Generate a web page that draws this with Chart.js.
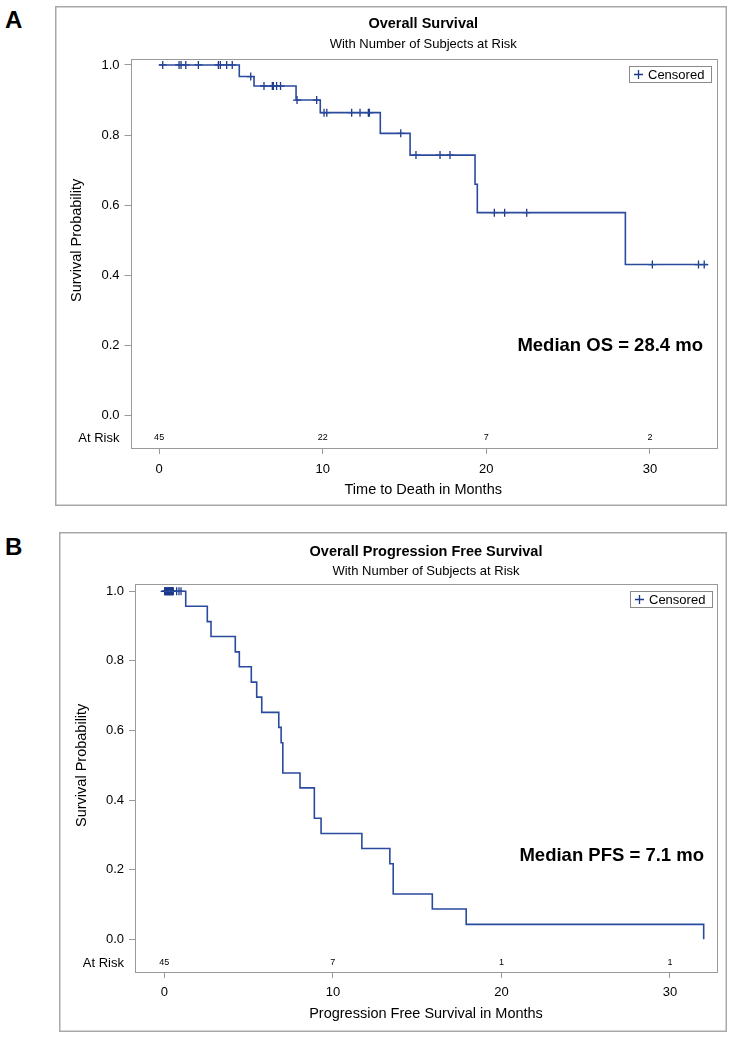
<!DOCTYPE html>
<html>
<head>
<meta charset="utf-8">
<script src="https://cdn.jsdelivr.net/npm/chart.js@4.4.0/dist/chart.umd.min.js"></script>
<style>
  body { margin: 0; background: #fff; width: 733px; height: 1039px; position: relative; overflow: hidden;
         font-family: "Liberation Sans", Arial, sans-serif; }
  .lab { position: absolute; font-weight: bold; font-size: 24px; color: #000; line-height: 24px; }
  .box { position: absolute; }
</style>
</head>
<body>
<div class="lab" style="left:5px;top:8px">A</div>
<div class="box" style="left:55px;top:6px;width:672px;height:500px"><canvas id="chartA"></canvas></div>
<div class="lab" style="left:5px;top:535px">B</div>
<div class="box" style="left:59px;top:532px;width:668px;height:500px"><canvas id="chartB"></canvas></div>

<script>
// ---- data ----
// overall survival: step times (months) and survival after each step
var osTimes = [0, 4.9, 5.8, 8.37, 9.85, 13.52, 15.34, 19.31, 19.45, 28.5, 33.53];
var osSurv  = [1.0, 0.967, 0.940, 0.900, 0.864, 0.805, 0.743, 0.660, 0.579, 0.431, 0.431];
var osCensored = [0.22, 1.22, 1.34, 1.63, 2.40, 3.62, 3.74, 4.13, 4.47, 5.6, 6.41, 6.92, 6.98, 7.18, 7.42,
                  8.43, 9.63, 10.08, 10.25, 11.77, 12.28, 12.79, 12.85, 14.77, 15.7, 17.17, 17.78,
                  20.49, 21.12, 22.47, 30.15, 32.97, 33.32];
var osRiskTimes = [0, 10, 20, 30];
var osRisk = [45, 22, 7, 2];

// progression free survival
var pfsTimes = [0, 1.27, 2.55, 2.77, 4.21, 4.45, 5.16, 5.48, 5.78, 6.79, 6.93, 7.03, 8.05, 8.90, 9.30,
                11.72, 13.38, 13.58, 15.90, 17.91, 32.0];
var pfsSurv  = [1.0, 0.957, 0.913, 0.870, 0.826, 0.783, 0.739, 0.696, 0.652, 0.609, 0.565, 0.478, 0.435,
                0.348, 0.304, 0.261, 0.217, 0.130, 0.087, 0.043, 0.0];
var pfsCensored = [0.02, 0.05, 0.08, 0.11, 0.14, 0.17, 0.2, 0.23, 0.26, 0.29, 0.32, 0.35, 0.38, 0.41,
                   0.44, 0.47, 0.5, 0.53, 0.73, 0.87, 0.99];
var pfsRiskTimes = [0, 10, 20, 30];
var pfsRisk = [45, 7, 1, 1];

var yTicks = [0, 0.2, 0.4, 0.6, 0.8, 1.0];
var xTicks = [0, 10, 20, 30];

var LINE = '#2a4a9e';
var MARK = '#1c3889';
var GREY = '#9a9a9a';
var FONT = '"Liberation Sans", Arial, sans-serif';

function survAt(times, surv, t) {
  var s = surv[0];
  for (var i = 0; i < times.length; i++) { if (times[i] <= t) s = surv[i]; }
  return s;
}

function decor(c) {
  return {
    id: 'decor',
    afterDraw: function (chart) {
      var ctx = chart.ctx, a = chart.chartArea, xs = chart.scales.x, ys = chart.scales.y;
      ctx.save();
      // outer box + plot frame
      ctx.strokeStyle = '#a8a8a8'; ctx.lineWidth = 1.5;
      ctx.strokeRect(0.75, 0.75, chart.width - 1.5, chart.height - 1.5);
      ctx.strokeStyle = GREY; ctx.lineWidth = 1;
      ctx.strokeRect(Math.round(a.left) + 0.5, Math.round(a.top) + 0.5,
                     Math.round(a.right - a.left), Math.round(a.bottom - a.top));
      var cx = (a.left + a.right) / 2;
      ctx.fillStyle = '#000'; ctx.textAlign = 'center'; ctx.textBaseline = 'middle';
      ctx.font = 'bold 14.5px ' + FONT; ctx.fillText(c.title, cx, c.titleY);
      ctx.font = '13px ' + FONT; ctx.fillText(c.subtitle, cx, c.subY);
      // y title, centred on the 0..1 range
      ctx.save();
      ctx.translate(c.yTitleX, (ys.getPixelForValue(0) + ys.getPixelForValue(1)) / 2);
      ctx.rotate(-Math.PI / 2);
      ctx.font = '14.5px ' + FONT; ctx.fillText('Survival Probability', 0, 0);
      ctx.restore();
      // at risk row
      ctx.font = '13px ' + FONT; ctx.textAlign = 'right';
      ctx.fillText('At Risk', a.left - 11, c.riskY);
      ctx.font = '9px ' + FONT; ctx.textAlign = 'center';
      c.riskTimes.forEach(function (t, i) { ctx.fillText(String(c.risk[i]), xs.getPixelForValue(t), c.riskY); });
      // median label
      ctx.font = 'bold 18.5px ' + FONT; ctx.textAlign = 'right';
      ctx.fillText(c.median, a.right - 13, ys.getPixelForValue(c.medianAt));
      // legend
      var lx = a.right - 87, ly = a.top + 7, lw = 82, lh = 16;
      ctx.strokeStyle = '#8a8a8a'; ctx.lineWidth = 1;
      ctx.strokeRect(Math.round(lx) + 0.5, Math.round(ly) + 0.5, lw, lh);
      ctx.strokeStyle = MARK; ctx.lineWidth = 1.3;
      ctx.beginPath();
      ctx.moveTo(lx + 5, ly + lh / 2 + 0.5); ctx.lineTo(lx + 14, ly + lh / 2 + 0.5);
      ctx.moveTo(lx + 9.5, ly + 4); ctx.lineTo(lx + 9.5, ly + 13);
      ctx.stroke();
      ctx.fillStyle = '#000'; ctx.textAlign = 'left'; ctx.font = '13px ' + FONT;
      ctx.fillText('Censored', lx + 19, ly + lh / 2 + 1);
      ctx.restore();
    }
  };
}

function kmChart(id, c) {
  var line = c.times.map(function (t, i) { return { x: t, y: c.surv[i] }; });
  var marks = c.censored.map(function (t) { return { x: t, y: survAt(c.times, c.surv, t) }; });
  new Chart(document.getElementById(id), {
    type: 'line',
    data: {
      datasets: [
        { data: line, stepped: 'before', borderColor: LINE, borderWidth: 1.6, pointRadius: 0, fill: false },
        { data: marks, showLine: false, pointStyle: 'cross', pointRadius: 4, borderColor: MARK,
          pointBorderWidth: 1.3, backgroundColor: MARK }
      ]
    },
    options: {
      responsive: true, maintainAspectRatio: false, animation: false,
      layout: { padding: { top: c.padTop, right: c.padRight, left: 0, bottom: 0 } },
      plugins: { legend: { display: false }, tooltip: { enabled: false } },
      scales: {
        x: {
          type: 'linear', min: c.xMin, max: c.xMax,
          afterBuildTicks: function (s) { s.ticks = xTicks.map(function (v) { return { value: v }; }); },
          afterFit: function (s) { s.height = c.xHeight; },
          ticks: { color: '#000', font: { family: FONT, size: 13 }, padding: c.xTickPad, maxRotation: 0 },
          grid: { drawOnChartArea: false, drawTicks: true, tickLength: 6, color: GREY },
          border: { display: false },
          title: { display: true, text: c.xTitle, color: '#000', font: { family: FONT, size: 14.5 },
                   padding: { top: 0, bottom: c.xTitlePad } }
        },
        y: {
          type: 'linear', min: c.yMin, max: c.yMax,
          afterBuildTicks: function (s) { s.ticks = yTicks.map(function (v) { return { value: v }; }); },
          afterFit: function (s) { s.width = c.yWidth; },
          ticks: { color: '#000', font: { family: FONT, size: 13 }, padding: 5,
                   callback: function (v) { return Number(v).toFixed(1); } },
          grid: { drawOnChartArea: false, drawTicks: true, tickLength: 6, color: GREY },
          border: { display: false }
        }
      }
    },
    plugins: [decor(c)]
  });
}

kmChart('chartA', {
  times: osTimes, surv: osSurv, censored: osCensored, riskTimes: osRiskTimes, risk: osRisk,
  title: 'Overall Survival', subtitle: 'With Number of Subjects at Risk',
  xTitle: 'Time to Death in Months', median: 'Median OS = 28.4 mo', medianAt: 0.2,
  xMin: -1.75, xMax: 34.04, yMin: -0.092, yMax: 1.017,
  padTop: 53, padRight: 11, yWidth: 75.5, xHeight: 58, xTickPad: 8, xTitlePad: 7,
  titleY: 18, subY: 38, yTitleX: 22, riskY: 432
});

kmChart('chartB', {
  times: pfsTimes, surv: pfsSurv, censored: pfsCensored, riskTimes: pfsRiskTimes, risk: pfsRisk,
  title: 'Overall Progression Free Survival', subtitle: 'With Number of Subjects at Risk',
  xTitle: 'Progression Free Survival in Months', median: 'Median PFS = 7.1 mo', medianAt: 0.24,
  xMin: -1.74, xMax: 32.79, yMin: -0.094, yMax: 1.021,
  padTop: 52, padRight: 10, yWidth: 76, xHeight: 60, xTickPad: 7, xTitlePad: 9,
  titleY: 20, subY: 39, yTitleX: 23, riskY: 431
});
</script>
</body>
</html>
